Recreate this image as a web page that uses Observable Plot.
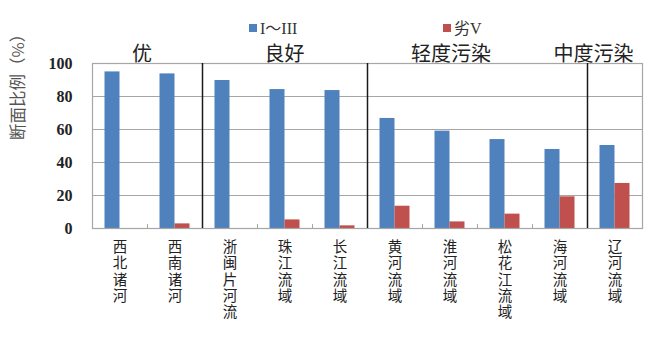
<!DOCTYPE html>
<html><head><meta charset="utf-8">
<script src="https://cdn.jsdelivr.net/npm/d3@7"></script>
<script src="https://cdn.jsdelivr.net/npm/@observablehq/plot@0.6"></script>
<style>body{margin:0;background:#fff;} #chart{width:650px;height:351px;}</style>
</head><body><div id="chart"></div>
<script>
// ---- data ----
const categories = ["西北诸河","西南诸河","浙闽片河流","珠江流域","长江流域","黄河流域","淮河流域","松花江流域","海河流域","辽河流域"];
const seriesNames = ["I～III","劣V"];
const goodValues = [94.9, 93.7, 89.7, 84.2, 83.6, 66.7, 59.0, 53.9, 47.9, 50.3];
const poorValues = [0, 2.8, 0, 5.2, 1.6, 13.5, 4.0, 8.7, 19.2, 27.3];
const groupNames = ["优","良好","轻度污染","中度污染"];
const groupMembers = [
  ["西北诸河","西南诸河"],
  ["浙闽片河流","珠江流域","长江流域"],
  ["黄河流域","淮河流域","松花江流域","海河流域"],
  ["辽河流域"]
];
const yTicks = [0, 20, 40, 60, 80, 100];
const yLabel = "断面比例（%）";

// ---- layout / style ----
const W = 650, H = 351, mL = 92, mR = 8, mT = 63, mB = 123;
const step = (W - mL - mR) / categories.length;
const barW = 15;
const gap = (step - 2 * barW) / 2;
const frameH = H - mT - mB;
const colors = ["#4f81bd", "#c0504d"];
const CJK = '"Noto Sans CJK SC", sans-serif';
const SERIF = '"Liberation Serif", "Noto Sans CJK SC", serif';
const groupLabelShift = [-5, 0, -26, -21];

const rows = categories.map((c, i) => ({category: c, good: goodValues[i], poor: poorValues[i]}));
const lastOfGroups = groupMembers.slice(0, -1).map(m => m[m.length - 1]);

const plot = Plot.plot({
  width: W, height: H,
  marginLeft: mL, marginRight: mR, marginTop: mT, marginBottom: mB,
  style: {background: "#fff", overflow: "visible"},
  x: {domain: categories, padding: 0},
  y: {domain: [0, 100]},
  marks: [
    Plot.ruleY(yTicks.slice(1, -1), {stroke: "#a6a6a6", strokeWidth: 1.2}),
    Plot.barY(rows, {x: "category", y: "good", fill: colors[0], insetLeft: gap, insetRight: gap + barW}),
    Plot.barY(rows, {x: "category", y: "poor", fill: colors[1], insetLeft: gap + barW, insetRight: gap}),
    Plot.ruleX(categories.slice(0, -1), {x: d => d, dx: step / 2, insetTop: frameH - 4, stroke: "#a6a6a6"}),
    Plot.frame({stroke: "#a6a6a6", strokeWidth: 1.2}),
    Plot.ruleX(lastOfGroups, {x: d => d, dx: step / 2, stroke: "#1a1a1a", strokeWidth: 1.5}),
    Plot.axisY(yTicks, {tickSize: 0, tickPadding: 20, fontSize: 16, fontWeight: "bold", fontFamily: SERIF, fill: "#222", label: null}),
    Plot.axisX({tickSize: 0, tickPadding: 12, fontSize: 14.5, lineHeight: 1.124, tickFormat: d => [...d].join("\n"), label: null, fontFamily: CJK, fill: "#222"}),
    Plot.text([yLabel], {frameAnchor: "left", rotate: -90, dx: -74, dy: -6, fontSize: 16.5, fontFamily: CJK, fill: "#555"})
  ]
});

const svg = d3.select(plot);
const xs = plot.scale("x");
groupNames.forEach((g, i) => {
  const m = groupMembers[i];
  const cx = (xs.apply(m[0]) + xs.apply(m[m.length - 1]) + xs.bandwidth) / 2;
  svg.append("text")
    .attr("x", cx + groupLabelShift[i]).attr("y", 52)
    .attr("text-anchor", "middle").attr("dominant-baseline", "central")
    .attr("font-family", CJK).attr("font-size", 20).attr("fill", "#222")
    .text(g);
});
// legend
const legendStarts = [249, 443];
seriesNames.forEach((s, i) => {
  svg.append("rect").attr("x", legendStarts[i]).attr("y", 24).attr("width", 8).attr("height", 8).attr("fill", colors[i]);
  svg.append("text").attr("x", legendStarts[i] + 11).attr("y", 28)
    .attr("text-anchor", "start").attr("dominant-baseline", "central")
    .attr("font-family", SERIF).attr("font-size", 16).attr("fill", "#333")
    .text(s);
});
document.getElementById("chart").appendChild(plot);
</script>
</body></html>
